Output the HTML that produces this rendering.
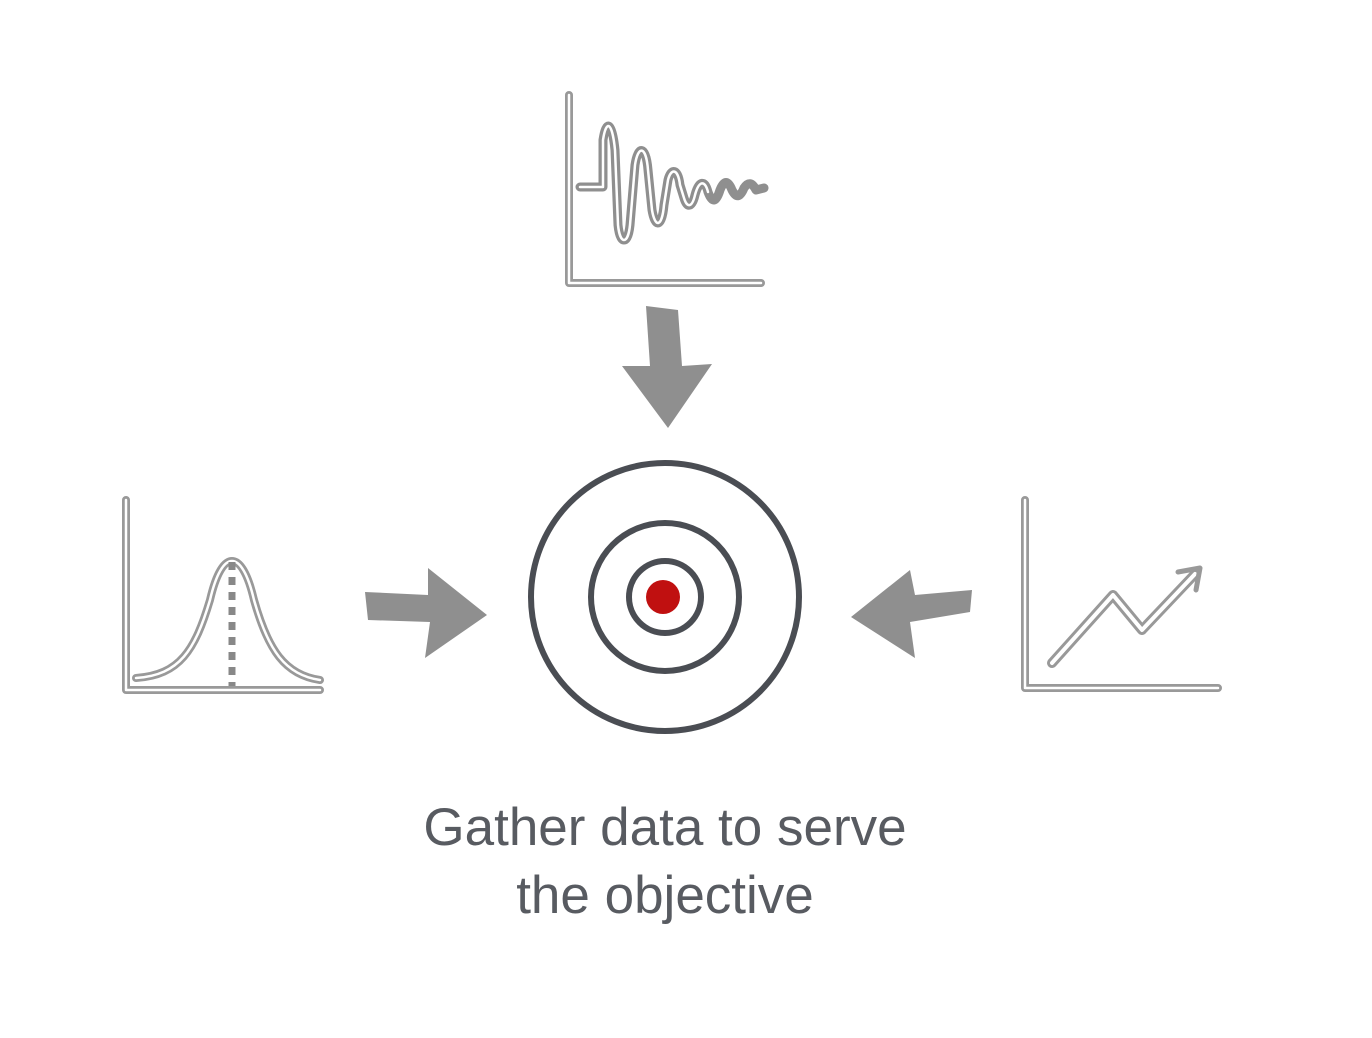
<!DOCTYPE html>
<html><head><meta charset="utf-8"><style>
html,body{margin:0;padding:0;background:#fff;width:1372px;height:1038px;overflow:hidden}
svg{position:absolute;left:0;top:0}
.t{font-family:"Liberation Sans",sans-serif;font-size:53px;fill:#585b61;font-weight:normal}
</style></head><body>
<svg width="1372" height="1038" viewBox="0 0 1372 1038">
<g fill="none" stroke-linecap="round" stroke-linejoin="round">
<path d="M569 95 V283 H761" stroke="#999" stroke-width="8"/>
<path d="M569 95 V283 H761" stroke="#fff" stroke-width="2.5"/>
<path d="M580 187 H603 V140 C606 120 612 120 615 150 L618 225 C620 245 628 245 630 225 L635 165 C638 145 646 145 648 170 L652 210 C655 228 662 228 664 205 L668 180 C671 168 678 168 680 185 L684 198 C687 208 692 208 695 195 C699 180 705 180 708 192 C712 203 716 203 720 190 C724 180 728 180 732 190 C736 198 740 198 744 188 C748 182 752 182 756 190 L764 188" stroke="#8f8f8f" stroke-width="9"/>
<path d="M580 187 H603 V140 C606 120 612 120 615 150 L618 225 C620 245 628 245 630 225 L635 165 C638 145 646 145 648 170 L652 210 C655 228 662 228 664 205 L668 180 C671 168 678 168 680 185 L684 198 C687 208 692 208 695 195 C699 180 705 180 708 192" stroke="#fff" stroke-width="2.5"/>
<path d="M126 500 V690 H320" stroke="#999" stroke-width="8"/>
<path d="M126 500 V690 H320" stroke="#fff" stroke-width="2.5"/>
<path d="M136 678 C180 675 195 650 210 600 C222 548 242 548 254 600 C268 650 285 675 320 680" stroke="#999" stroke-width="8"/>
<path d="M136 678 C180 675 195 650 210 600 C222 548 242 548 254 600 C268 650 285 675 320 680" stroke="#fff" stroke-width="2.5"/>
<path d="M232 562 V686" stroke="#888" stroke-width="7" stroke-dasharray="8 7" stroke-linecap="butt"/>
<path d="M1025 500 V688 H1218" stroke="#999" stroke-width="8"/>
<path d="M1025 500 V688 H1218" stroke="#fff" stroke-width="2.5"/>
<path d="M1052 663 L1113 595 L1142 630 L1195 574" stroke="#999" stroke-width="10"/>
<path d="M1052 663 L1113 595 L1142 630 L1195 574" stroke="#fff" stroke-width="4"/>
<path d="M1178 572 L1200 568 L1196 590" stroke="#999" stroke-width="5"/>
<circle cx="665" cy="597" r="134" stroke="#4a4d53" stroke-width="6"/>
<circle cx="665" cy="597" r="74" stroke="#4a4d53" stroke-width="6"/>
<circle cx="665" cy="597" r="36" stroke="#4a4d53" stroke-width="6"/>
</g>
<circle cx="663" cy="597" r="17" fill="#c01010"/>
<g fill="#8f8f8f">
<polygon points="646,306 678,310 682,366 712,364 668,428 622,366 650,366"/>
<polygon points="365,592 428,595 428,568 487,615 425,658 430,622 368,620"/>
<polygon points="972,590 915,595 910,570 851,617 915,658 910,622 970,612"/>
</g>
<text class="t" x="665" y="845" text-anchor="middle">Gather data to serve</text>
<text class="t" x="665" y="913" text-anchor="middle">the objective</text>
</svg>
</body></html>
